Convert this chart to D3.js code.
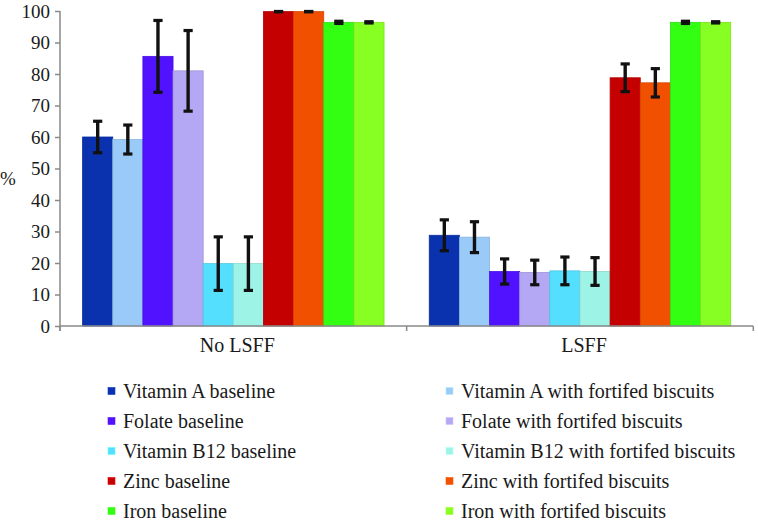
<!DOCTYPE html>
<html>
<head>
<meta charset="utf-8">
<script src="https://cdn.jsdelivr.net/npm/d3@7"></script>
</head>
<body style="margin:0;background:#fff">
<svg id="chart" width="758" height="520" font-family="Liberation Serif" style="display:block"></svg>
<script>
// ---- data ----
const categories = ["No LSFF", "LSFF"];
const seriesNames = [
  "Vitamin A baseline", "Vitamin A with fortifed biscuits",
  "Folate baseline", "Folate with fortifed biscuits",
  "Vitamin B12 baseline", "Vitamin B12 with fortifed biscuits",
  "Zinc baseline", "Zinc with fortifed biscuits",
  "Iron baseline", "Iron with fortifed biscuits"
];
const seriesColors = [
  "#0A32AF", "#9ACBF8",
  "#5012FF", "#B4A8F5",
  "#55DFFF", "#9DF4E6",
  "#C50000", "#F05000",
  "#32FF12", "#88FF22"
];
// values per series: [No LSFF, LSFF]
const values = [
  [60.0, 28.8], [59.2, 28.2],
  [85.6, 17.3], [81.0, 17.0],
  [19.8, 17.5], [19.8, 17.3],
  [99.8, 78.8], [99.8, 77.2],
  [96.4, 96.4], [96.4, 96.4]
];
// error (±) per series: [No LSFF, LSFF]
const errors = [
  [5.0, 4.9], [4.6, 4.9],
  [11.4, 4.0], [12.8, 3.9],
  [8.5, 4.4], [8.5, 4.4],
  [0.05, 4.4], [0.05, 4.5],
  [0.35, 0.35], [0.2, 0.2]
];
const yTicks = [0, 10, 20, 30, 40, 50, 60, 70, 80, 90, 100];

// ---- layout ----
const FONT = "Liberation Serif";
const TXT = "#1a1a1a";
const svg = d3.select("#chart");
const mLeft = 60, mRight = 753.3, mTop = 11, mBottom = 326;

const x0 = d3.scaleBand().domain(categories).range([mLeft, mRight]).paddingInner(0).paddingOuter(0);
const x1 = d3.scaleBand().domain(seriesNames).range([0, x0.bandwidth()]).paddingInner(0).paddingOuter(0.75);
const y = d3.scaleLinear().domain([0, 100]).range([mBottom, mTop]);

// bars
const data = [];
categories.forEach((c, ci) => {
  seriesNames.forEach((s, si) => {
    data.push({cat: c, series: s, color: seriesColors[si], v: values[si][ci], e: errors[si][ci]});
  });
});

const barsG = svg.append("g");
barsG.selectAll("rect").data(data).join("rect")
  .attr("x", d => x0(d.cat) + x1(d.series))
  .attr("y", d => y(d.v))
  .attr("width", x1.bandwidth())
  .attr("height", d => y(0) - y(d.v))
  .attr("fill", d => d.color)
  .attr("stroke", d => d3.color(d.color).darker(0.35))
  .attr("stroke-width", 0.8);

// y axis
const yAxis = svg.append("g").attr("transform", `translate(${mLeft},0)`)
  .call(d3.axisLeft(y).tickValues(yTicks).tickSize(5).tickPadding(5).tickFormat(d3.format("d")));
yAxis.attr("font-family", FONT).attr("font-size", 19);
yAxis.select(".domain").attr("stroke", "#8a8a8a").attr("stroke-width", 1.5).attr("d", `M0,${mTop}V${mBottom + 5}`);
yAxis.selectAll(".tick line").attr("stroke", "#8a8a8a").attr("stroke-width", 1.5);
yAxis.selectAll(".tick text").attr("font-family", FONT).style("font-family", "'Liberation Serif'").attr("font-size", 19).attr("fill", TXT);

// x axis
const xAxisG = svg.append("g");
xAxisG.append("line").attr("x1", mLeft).attr("x2", mRight).attr("y1", mBottom).attr("y2", mBottom)
  .attr("stroke", "#8a8a8a").attr("stroke-width", 1.5);
[mLeft, x0("LSFF"), mRight].forEach(px => {
  xAxisG.append("line").attr("x1", px).attr("x2", px).attr("y1", mBottom).attr("y2", mBottom + 5)
    .attr("stroke", "#8a8a8a").attr("stroke-width", 1.5);
});
xAxisG.selectAll("text.cat").data(categories).join("text")
  .attr("class", "cat")
  .attr("x", d => x0(d) + x0.bandwidth() / 2 + 4)
  .attr("y", 352)
  .attr("text-anchor", "middle")
  .attr("font-family", FONT).style("font-family", "'Liberation Serif'").attr("font-size", 20).attr("fill", TXT)
  .text(d => d);

// error bars
const errG = svg.append("g");
data.forEach(d => {
  const cx = x0(d.cat) + x1(d.series) + x1.bandwidth() / 2;
  const yt = y(d.v + d.e), yb = y(d.v - d.e);
  errG.append("line").attr("x1", cx).attr("x2", cx).attr("y1", yt).attr("y2", yb)
    .attr("stroke", "#111").attr("stroke-width", 3.4);
  [yt, yb].forEach(yy => {
    errG.append("line").attr("x1", cx - 4.6).attr("x2", cx + 4.6).attr("y1", yy).attr("y2", yy)
      .attr("stroke", "#111").attr("stroke-width", 3.2);
  });
});

// y label
svg.append("text").attr("x", 0).attr("y", 185)
  .attr("font-family", FONT).style("font-family", "'Liberation Serif'").attr("font-size", 19).attr("fill", TXT).text("%");

// legend
const legG = svg.append("g");
seriesNames.forEach((s, i) => {
  const col = i % 2, row = Math.floor(i / 2);
  const sx = col === 0 ? 108 : 446;
  const cy = 391 + row * 30;
  legG.append("rect").attr("x", sx).attr("y", cy - 3.5).attr("width", 7).attr("height", 7)
    .attr("fill", seriesColors[i]).attr("stroke", d3.color(seriesColors[i]).brighter(0.4)).attr("stroke-width", 0.6);
  legG.append("text").attr("x", sx + 15).attr("y", cy + 6.5)
    .attr("font-family", FONT).style("font-family", "'Liberation Serif'").attr("font-size", 20).attr("fill", TXT).text(s);
});
</script>
</body>
</html>
